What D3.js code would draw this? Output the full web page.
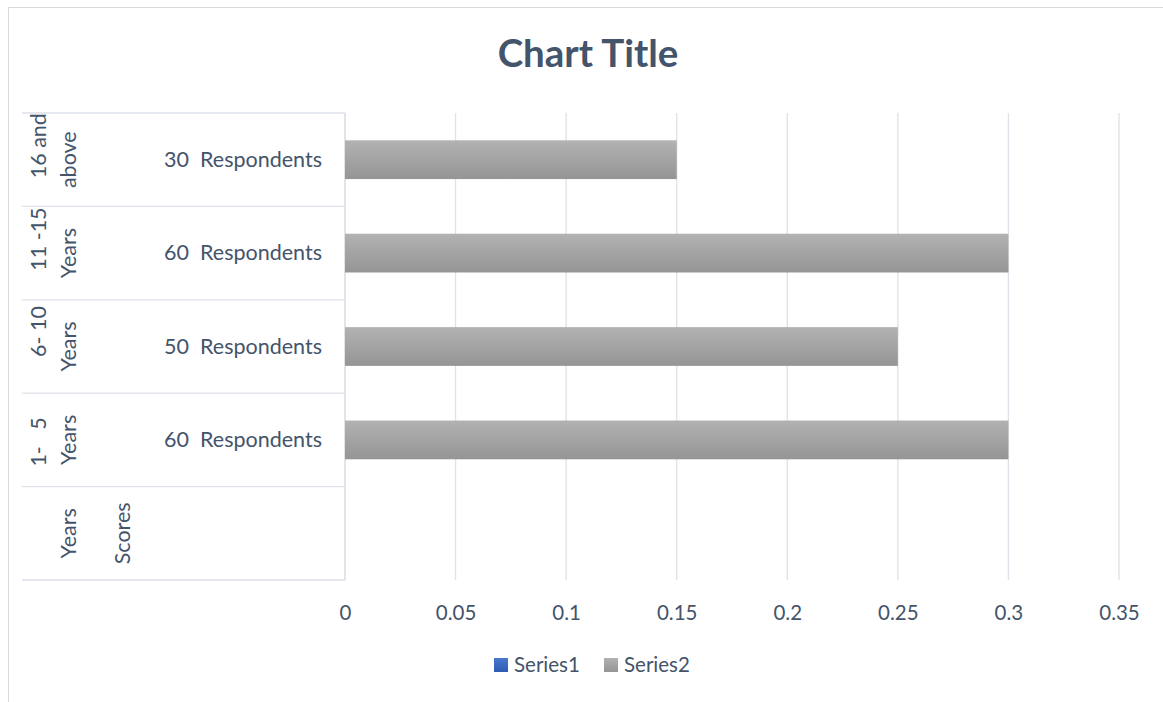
<!DOCTYPE html>
<html>
<head>
<meta charset="utf-8">
<script src="https://cdn.jsdelivr.net/npm/d3@7"></script>
<style>
  html, body { margin: 0; padding: 0; background: #fff; }
  svg { display: block; }
  text { font-family: Lato, "Open Sans", sans-serif; fill: #44546a; }
</style>
</head>
<body>
<svg id="chart" width="1163" height="702"></svg>
<script>
// ---- data ----
const categories = ["16 and above", "11 -15 Years", "6- 10 Years", "1-   5 Years", "Years"];
const outerLine1 = ["16 and", "11 -15", "6- 10", "1-   5", ""];
const outerLine2 = ["above", "Years", "Years", "Years", "Years"];
const innerLabels = ["30  Respondents", "60  Respondents", "50  Respondents", "60  Respondents", "Scores"];
const series1 = [null, null, null, null, null];
const series2 = [0.15, 0.3, 0.25, 0.3, null];
const seriesNames = ["Series1", "Series2"];
const xTicks = [0, 0.05, 0.1, 0.15, 0.2, 0.25, 0.3, 0.35];
const chartTitle = "Chart Title";

// ---- layout ----
const svg = d3.select("#chart");
const plotLeft = 345, plotRight = 1119, plotTop = 113, plotBottom = 580;
const catLeft = 22;
const gridColor = "#dde1e8";
const labelSize = "21.5px";

const defs = svg.append("defs");
const g2 = defs.append("linearGradient").attr("id", "gGray").attr("x1", 0).attr("y1", 0).attr("x2", 0).attr("y2", 1);
g2.append("stop").attr("offset", "0%").attr("stop-color", "#b2b2b2");
g2.append("stop").attr("offset", "100%").attr("stop-color", "#959595");
const g1 = defs.append("linearGradient").attr("id", "gBlue").attr("x1", 0).attr("y1", 0).attr("x2", 0).attr("y2", 1);
g1.append("stop").attr("offset", "0%").attr("stop-color", "#4a78cc");
g1.append("stop").attr("offset", "100%").attr("stop-color", "#2d5bb5");

// chart border
svg.append("rect").attr("x", 8.5).attr("y", 7.5).attr("width", 1200).attr("height", 750)
  .attr("fill", "none").attr("stroke", "#d9d9d9").attr("stroke-width", 1);

// title
svg.append("text").attr("x", 588).attr("y", 67).attr("text-anchor", "middle")
  .style("font-size", "38.5px").style("font-weight", "bold").style("fill", "#44546a")
  .text(chartTitle);

const x = d3.scaleLinear().domain([0, 0.35]).range([plotLeft, plotRight]);
const y = d3.scaleBand().domain(categories).range([plotTop, plotBottom]).padding(0);

// vertical gridlines
svg.append("g").selectAll("line").data(xTicks).join("line")
  .attr("x1", d => x(d)).attr("x2", d => x(d))
  .attr("y1", plotTop).attr("y2", plotBottom)
  .attr("stroke", gridColor).attr("stroke-width", 1.3);

// x axis tick labels via d3 axis
const xAxis = d3.axisBottom(x).tickValues(xTicks).tickSize(0).tickPadding(0)
  .tickFormat(d => String(+d.toFixed(2)));
const gx = svg.append("g").attr("transform", `translate(0,${plotBottom})`).call(xAxis);
gx.select(".domain").remove();
gx.selectAll("text").attr("y", 40).attr("dy", null)
  .style("font-size", "20.5px").style("font-family", "Lato, sans-serif").attr("fill", "#44546a");

// category axis lines
const bounds = categories.map(c => y(c)).concat([plotBottom]);
svg.append("g").selectAll("line").data(bounds).join("line")
  .attr("x1", catLeft).attr("x2", plotLeft)
  .attr("y1", d => d).attr("y2", d => d)
  .attr("stroke", gridColor).attr("stroke-width", 1.3);
svg.append("line").attr("x1", plotLeft).attr("x2", plotLeft).attr("y1", plotTop).attr("y2", plotBottom)
  .attr("stroke", gridColor).attr("stroke-width", 1.3);

// bars
const barH = y.bandwidth() * 0.415;
svg.append("g").selectAll("rect").data(categories.map((c, i) => ({c, v: series2[i]})).filter(d => d.v != null))
  .join("rect")
  .attr("x", x(0)).attr("width", d => x(d.v) - x(0))
  .attr("y", d => y(d.c) + y.bandwidth() / 2 - barH / 2).attr("height", barH)
  .attr("fill", "url(#gGray)");
svg.append("g").selectAll("rect").data(categories.map((c, i) => ({c, v: series1[i]})).filter(d => d.v != null))
  .join("rect")
  .attr("x", x(0)).attr("width", d => x(d.v) - x(0))
  .attr("y", d => y(d.c) + y.bandwidth() / 2 - barH / 2).attr("height", barH)
  .attr("fill", "url(#gBlue)");

// outer (rotated) category labels
const line1Shift = [-14, -14, -15, 2, 0];
categories.forEach((c, i) => {
  const cy = y(c) + y.bandwidth() / 2;
  if (outerLine1[i]) {
    svg.append("text").attr("xml:space", "preserve")
      .attr("transform", `translate(46,${cy + line1Shift[i]}) rotate(-90)`)
      .attr("text-anchor", "middle").style("font-size", labelSize)
      .text(outerLine1[i]);
  }
  svg.append("text")
    .attr("transform", `translate(76,${cy}) rotate(-90)`)
    .attr("text-anchor", "middle").style("font-size", labelSize)
    .text(outerLine2[i]);
});

// inner category labels
categories.forEach((c, i) => {
  const cy = y(c) + y.bandwidth() / 2;
  if (i === categories.length - 1) {
    svg.append("text")
      .attr("transform", `translate(130,${cy}) rotate(-90)`)
      .attr("text-anchor", "middle").style("font-size", labelSize)
      .text(innerLabels[i]);
  } else {
    svg.append("text").attr("xml:space", "preserve")
      .attr("x", 322).attr("y", cy + 7).attr("text-anchor", "end")
      .style("font-size", labelSize)
      .text(innerLabels[i]);
  }
});

// legend
const legendX = [494, 604];
const legendFill = ["url(#gBlue)", "url(#gGray)"];
seriesNames.forEach((s, i) => {
  svg.append("rect").attr("x", legendX[i]).attr("y", 658).attr("width", 14).attr("height", 14)
    .attr("fill", legendFill[i]);
  svg.append("text").attr("x", legendX[i] + 20).attr("y", 672).style("font-size", "20.5px").text(s);
});
</script>
</body>
</html>
